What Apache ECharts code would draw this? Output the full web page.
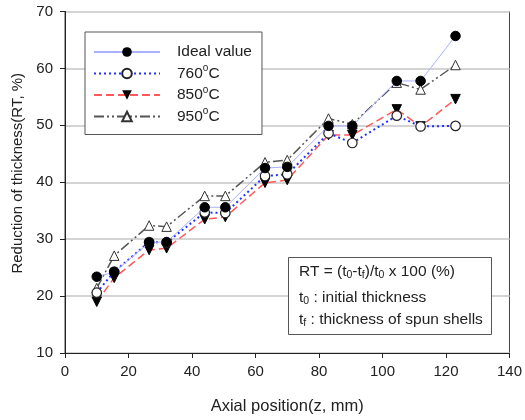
<!DOCTYPE html>
<html><head><meta charset="utf-8">
<script src="https://cdn.jsdelivr.net/npm/echarts@6/dist/echarts.min.js"></script>
<style>html,body{margin:0;padding:0;background:#fff}#c{width:525px;height:420px}</style>
</head><body><div id="c"></div>
<script>
const xPos = [10, 15.5, 26.5, 32, 44, 50.5, 63, 70, 83, 90.5, 104.5, 112, 123];
const ideal = [23.4, 24.2, 29.4, 29.5, 35.6, 35.6, 42.5, 42.7, 49.9, 49.9, 57.8, 57.8, 65.7];
const t760 = [20.6, 24.3, 29.5, 29.4, 34.7, 34.6, 41.1, 41.4, 48.6, 46.9, 51.7, 49.8, 49.9];
const t850 = [19.0, 23.2, 28.1, 28.4, 33.5, 33.9, 39.9, 40.4, 48.3, 48.3, 52.8, 49.8, 54.6];
const t950 = [21.4, 27.1, 32.4, 32.2, 37.6, 37.6, 43.5, 43.9, 51.2, 50.2, 57.5, 56.3, 60.6];
const seriesNames = ['Ideal value', '760oC', '850oC', '950oC'];
const xTicks = [0, 20, 40, 60, 80, 100, 120, 140];
const yTicks = [10, 20, 30, 40, 50, 60, 70];

const pair = arr => xPos.map((x, i) => [x, arr[i]]);
const font = 'Liberation Sans, Arial, sans-serif';
const subRich = {
  n: { fontSize: 15.5, lineHeight: 18, verticalAlign: 'middle', fontFamily: font, fill: '#222' },
  s: { fontSize: 10.5, lineHeight: 10, verticalAlign: 'bottom', fontFamily: font, fill: '#222' }
};
const chart = echarts.init(document.getElementById('c'));
chart.setOption({
  animation: false,
  backgroundColor: '#fff',
  grid: { left: 65, right: 12, top: 11.5, bottom: 67, show: true, borderColor: '#444', borderWidth: 1, backgroundColor: 'transparent' },
  xAxis: {
    type: 'value', min: xTicks[0], max: xTicks[xTicks.length - 1], interval: 20,
    name: 'Axial position(z, mm)', nameLocation: 'middle', nameGap: 45,
    nameTextStyle: { fontFamily: font, fontSize: 16.5, color: '#222' },
    axisLine: { lineStyle: { color: '#222', width: 1 } },
    axisTick: { show: true, length: 5, lineStyle: { color: '#222' } },
    axisLabel: { fontFamily: font, fontSize: 15, color: '#222', margin: 11 },
    splitLine: { show: false }
  },
  yAxis: {
    type: 'value', min: yTicks[0], max: yTicks[yTicks.length - 1], interval: 10,
    name: 'Reduction of thickness(RT, %)', nameLocation: 'middle', nameGap: 38,
    nameTextStyle: { fontFamily: font, fontSize: 15, color: '#222', padding: [0, 0, 0, 18] },
    axisLine: { show: true, lineStyle: { color: '#222', width: 1 } },
    axisTick: { show: true, length: 5, lineStyle: { color: '#222' } },
    axisLabel: { fontFamily: font, fontSize: 15, color: '#222', margin: 12 },
    splitLine: { show: true, lineStyle: { color: '#d4d4d4', width: 2 } }
  },
  legend: {
    left: 85, top: 32, orient: 'vertical',
    data: seriesNames,
    itemWidth: 66, itemHeight: 12, itemGap: 1.5,
    padding: [10, 10, 8, 8],
    borderColor: '#555', borderWidth: 1, backgroundColor: '#fff',
    formatter: n => n.indexOf('oC') > 0 ? '{b|' + n.replace('oC', '}{sup|o}{b|C}') : '{b|' + n + '}',
    textStyle: { fontFamily: font, fontSize: 15.5, color: '#222', padding: [0, 0, 0, 12], lineHeight: 20,
      rich: {
        b: { fontSize: 15.5, lineHeight: 20, verticalAlign: 'middle', fontFamily: font, color: '#222' },
        sup: { fontSize: 10, verticalAlign: 'top', lineHeight: 10, fontFamily: font, color: '#222' } } }
  },
  series: [
    { name: seriesNames[0], type: 'line', data: pair(ideal), symbol: 'circle', symbolSize: 9.5, z: 5,
      itemStyle: { color: '#000', borderColor: '#000' }, lineStyle: { color: '#aab2ff', width: 1 } },
    { name: seriesNames[1], type: 'line', data: pair(t760), symbol: 'circle', symbolSize: 9.5, z: 4,
      itemStyle: { color: '#fff', borderColor: '#222', borderWidth: 1.2 }, lineStyle: { color: '#2233ff', width: 2, type: [2, 3] } },
    { name: seriesNames[2], type: 'line', data: pair(t850), symbol: 'triangle', symbolRotate: 180, symbolSize: 9.5, z: 3,
      itemStyle: { color: '#000', borderColor: '#000' }, lineStyle: { color: '#ff5a5a', width: 1.5, type: [8, 4] } },
    { name: seriesNames[3], type: 'line', data: pair(t950), symbol: 'triangle', symbolSize: 9.5, z: 2,
      itemStyle: { color: '#fff', borderColor: '#333', borderWidth: 1 }, lineStyle: { color: '#555', width: 1.5, type: [10, 3, 2, 3, 2, 3] } }
  ],
  graphic: [
    { type: 'rect', left: 288, top: 257, shape: { width: 203, height: 77 }, style: { fill: '#fff', stroke: '#555', lineWidth: 1 }, z: 10 },
    { type: 'text', left: 299, top: 264, z: 11,
      style: { text: '{n|RT = (t}{s|0}{n|-t}{s|f}{n|)/t}{s|0}{n| x 100 (%)}', font: '15.5px ' + font, fill: '#222', rich: subRich } },
    { type: 'text', left: 299, top: 290, z: 11,
      style: { text: '{n|t}{s|0}{n| : initial thickness}', font: '15.5px ' + font, fill: '#222', rich: subRich } },
    { type: 'text', left: 299, top: 312, z: 11,
      style: { text: '{n|t}{s|f}{n| : thickness of spun shells}', font: '15.5px ' + font, fill: '#222', rich: subRich } }
  ]
});
</script></body></html>
